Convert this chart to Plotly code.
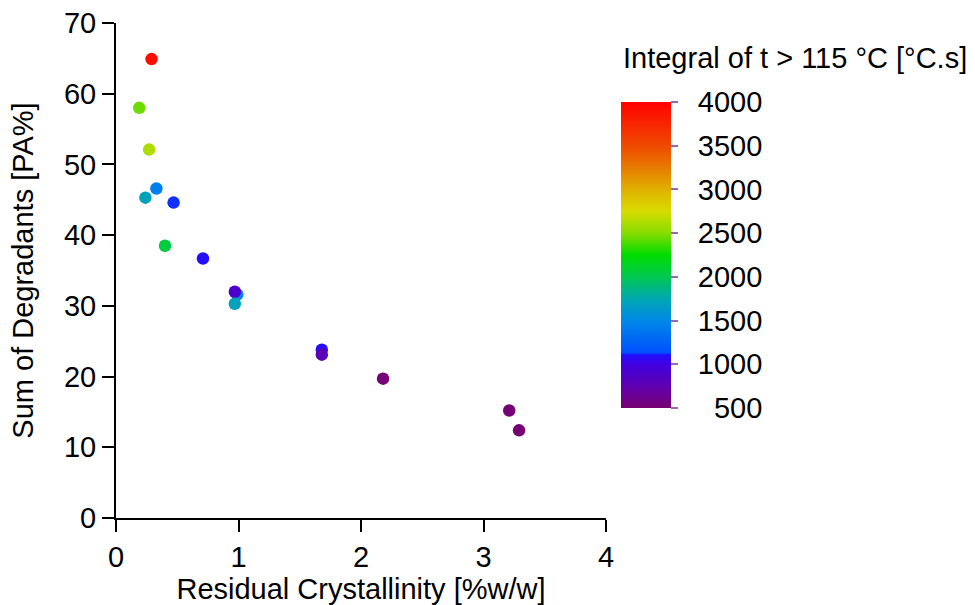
import plotly.graph_objects as go

# Data
residual_crystallinity = [0.29, 0.19, 0.27, 0.33, 0.24, 0.47, 0.40, 0.71, 0.99, 0.97, 0.97, 1.68, 1.68, 2.18, 3.21, 3.29]
sum_degradants = [64.9, 58.0, 52.1, 46.6, 45.3, 44.6, 38.5, 36.7, 31.6, 32.0, 30.3, 23.8, 23.1, 19.7, 15.2, 12.4]
integral_t115 = [3900, 2450, 2620, 1450, 1700, 1120, 2050, 1090, 1480, 900, 1700, 1080, 780, 520, 520, 520]

cbar_tickvals = [500, 1000, 1500, 2000, 2500, 3000, 3500, 4000]
cbar_ticktext = ["\u2002\u2007500", "\u20021000", "\u20021500", "\u20022000",
                 "\u20022500", "\u20023000", "\u20023500", "\u20024000"]

x_ticks = [0, 1, 2, 3, 4]
y_ticks = [0, 10, 20, 30, 40, 50, 60, 70]

cmin, cmax = 500, 4000


def n(v):
    return (v - cmin) / (cmax - cmin)


colorscale = [
    [n(500), "#780070"],
    [n(750), "#6000B0"],
    [n(1000), "#4000E0"],
    [n(1110), "#2010FF"],
    [n(1130), "#0050FF"],
    [n(1500), "#0088E8"],
    [n(1750), "#00A8B0"],
    [n(2000), "#00C850"],
    [n(2250), "#00DC00"],
    [n(2500), "#88DC00"],
    [n(2750), "#D8DC00"],
    [n(3000), "#E0B000"],
    [n(3300), "#E87000"],
    [n(3500), "#F04A00"],
    [n(4000), "#FF0000"],
]

FONT = "Liberation Sans, Arial, sans-serif"
FS = 29

fig = go.Figure(
    go.Scatter(
        x=residual_crystallinity,
        y=sum_degradants,
        mode="markers",
        marker=dict(
            size=12.5,
            color=integral_t115,
            cmin=cmin,
            cmax=cmax,
            colorscale=colorscale,
            line=dict(width=0),
            showscale=True,
            colorbar=dict(
                x=(621 - 116) / 490,
                xanchor="left",
                xpad=0,
                y=(518 - 255) / 495,
                yanchor="middle",
                ypad=0,
                thickness=50,
                thicknessmode="pixels",
                len=306,
                lenmode="pixels",
                outlinewidth=0,
                tickmode="array",
                tickvals=cbar_tickvals,
                ticktext=cbar_ticktext,
                ticks="outside",
                ticklen=7,
                tickwidth=2,
                tickcolor="#9a6ab0",
                tickfont=dict(family=FONT, size=FS, color="black"),
            ),
        ),
        showlegend=False,
    )
)

fig.add_annotation(
    text="Integral of t > 115 °C [°C.s]",
    xref="paper",
    yref="paper",
    x=(621 - 116) / 490,
    y=(518 - 58) / 495,
    xanchor="left",
    yanchor="middle",
    showarrow=False,
    font=dict(family=FONT, size=FS, color="black"),
)

axis_common = dict(
    showgrid=False,
    zeroline=False,
    showline=True,
    linecolor="black",
    linewidth=2,
    ticks="outside",
    ticklen=12,
    tickwidth=2,
    tickcolor="black",
    tickfont=dict(family=FONT, size=FS, color="black"),
    mirror=False,
)

fig.update_xaxes(
    range=[0, 4],
    tickmode="array",
    tickvals=x_ticks,
    title=dict(text="Residual Crystallinity [%w/w]", font=dict(family=FONT, size=FS, color="black"), standoff=8),
    **axis_common,
)
fig.update_yaxes(
    range=[0, 70],
    tickmode="array",
    tickvals=y_ticks,
    title=dict(text="Sum of Degradants [PA%]", font=dict(family=FONT, size=FS, color="black"), standoff=22),
    **axis_common,
)

fig.update_layout(
    width=975,
    height=605,
    margin=dict(l=116, r=369, t=23, b=87, autoexpand=False),
    plot_bgcolor="white",
    paper_bgcolor="white",
    font=dict(family=FONT, size=FS, color="black"),
)

fig.write_html(
    "out.html",
    config={"displayModeBar": False},
    post_script="document.body.style.margin='0';document.body.style.padding='0';",
)
